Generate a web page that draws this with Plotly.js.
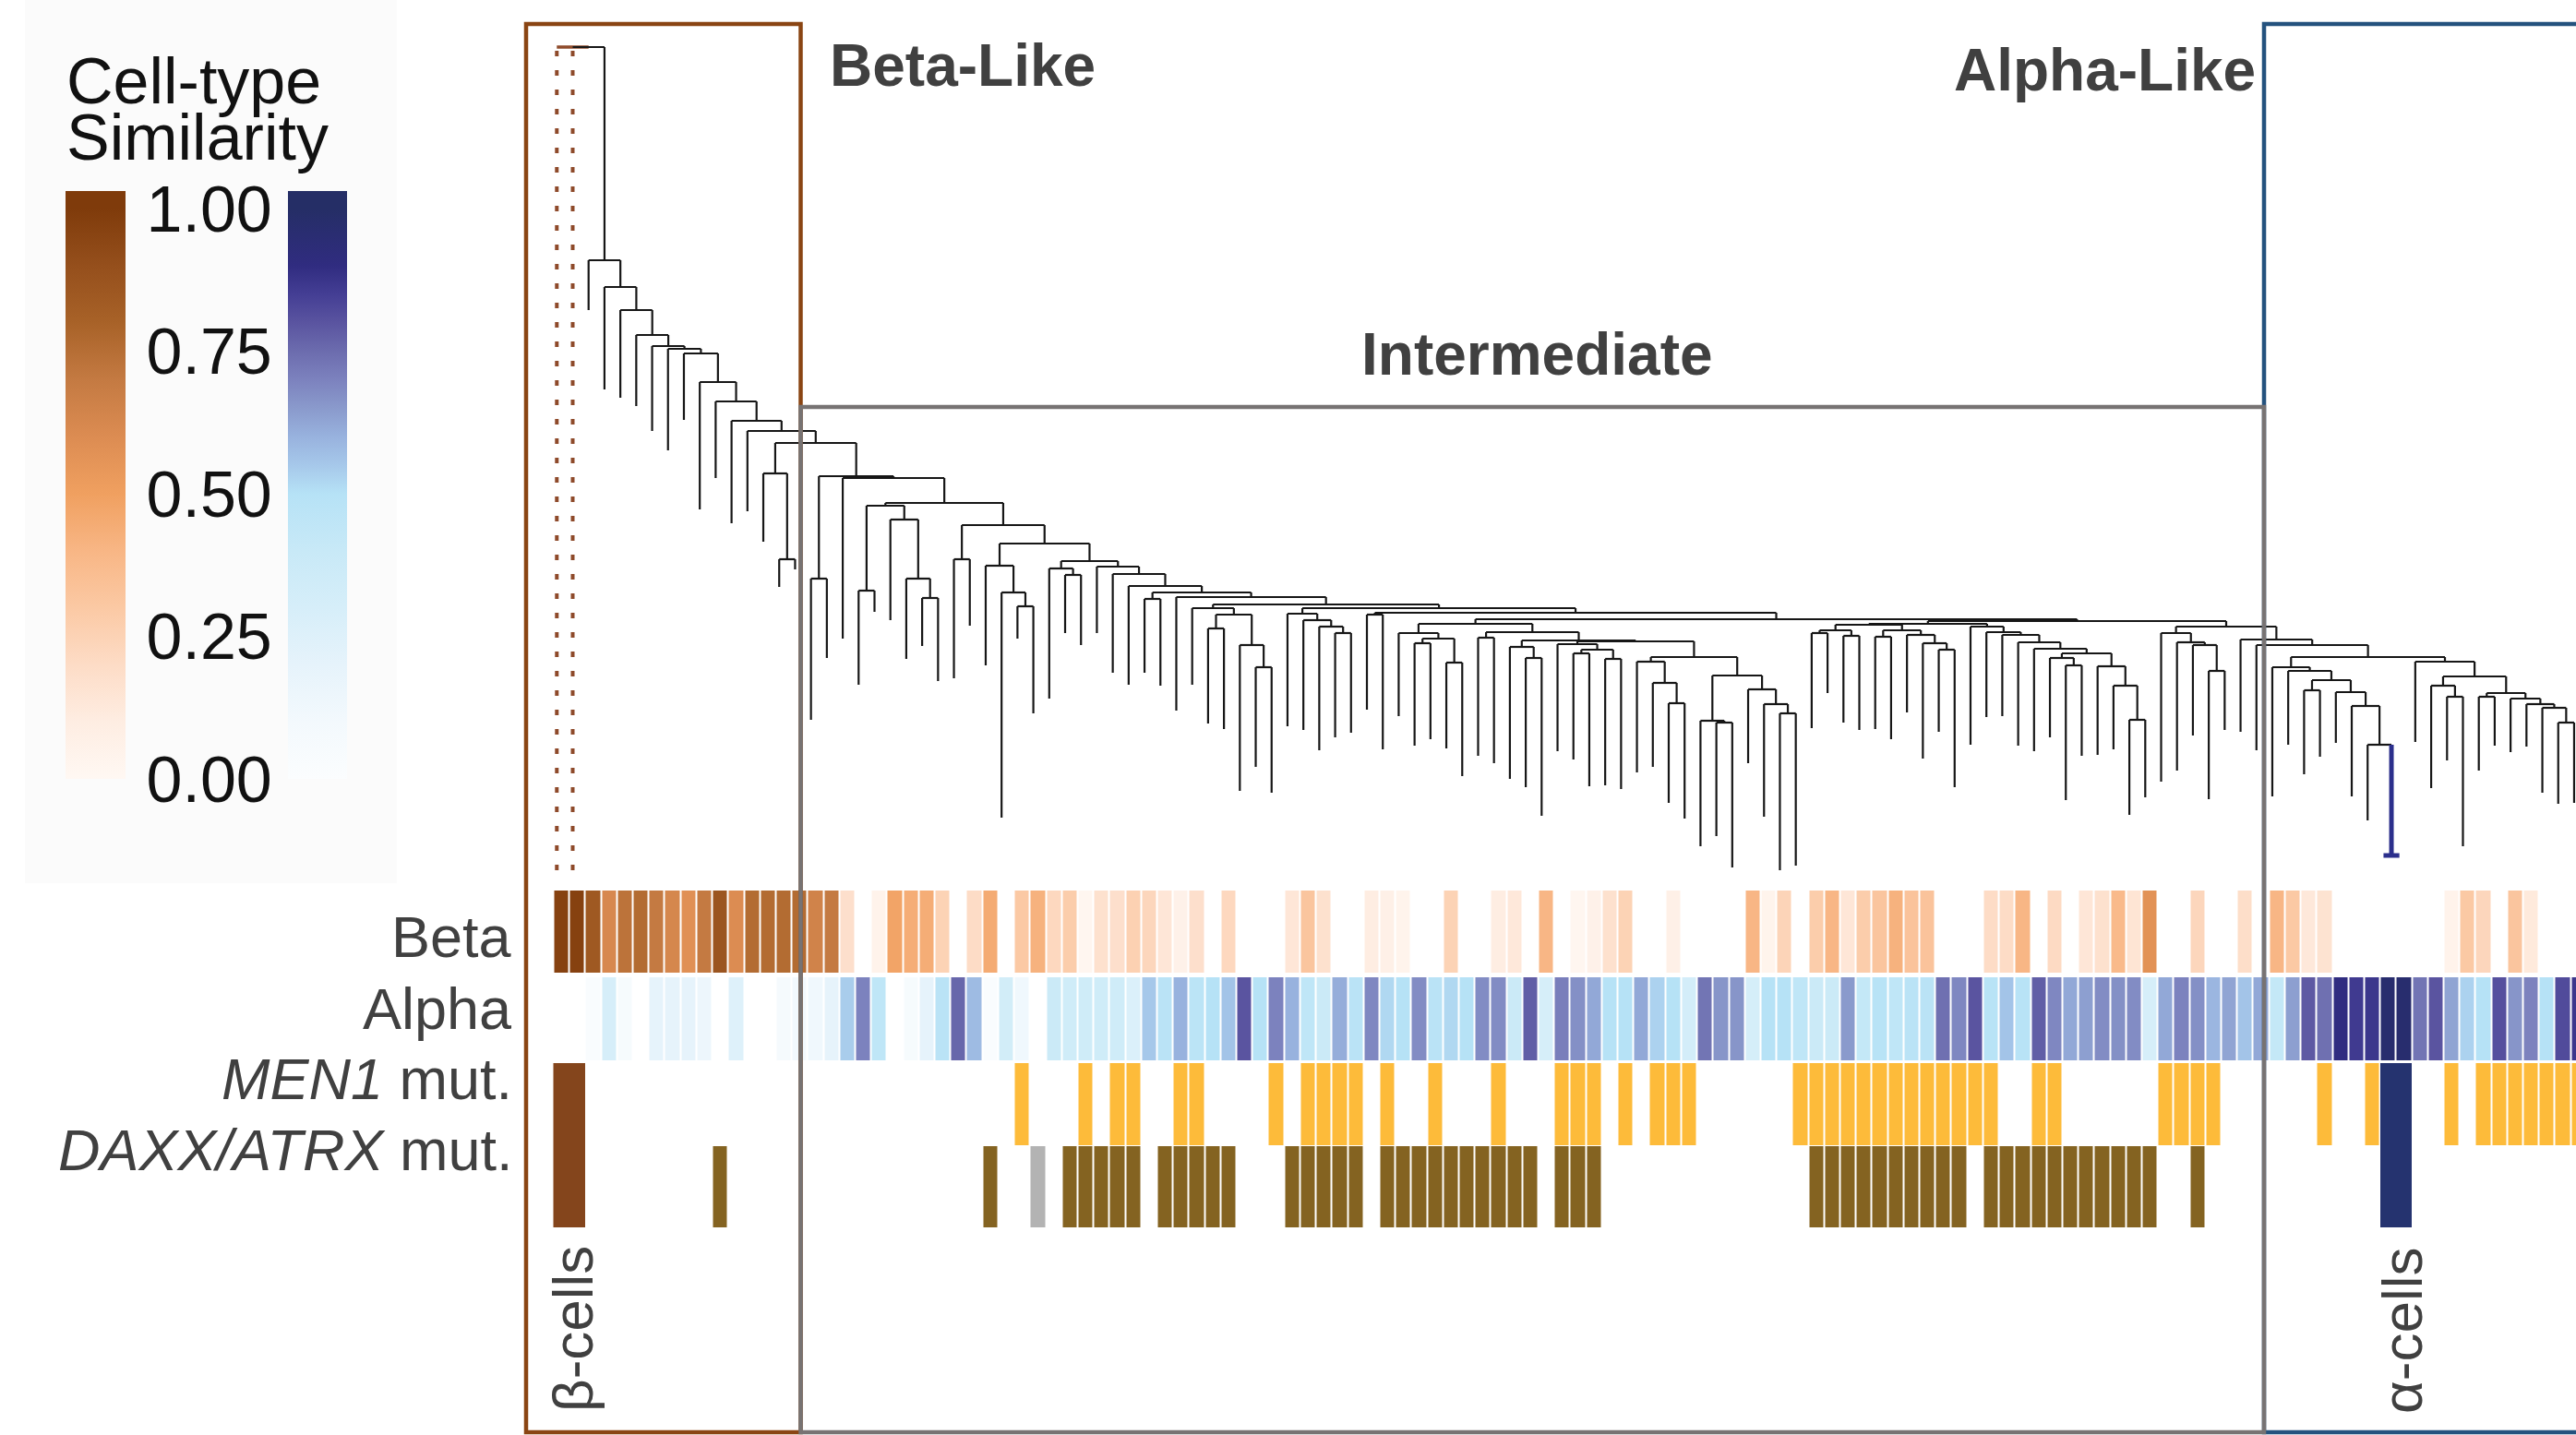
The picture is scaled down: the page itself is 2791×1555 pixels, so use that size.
<!DOCTYPE html>
<html>
<head>
<meta charset="utf-8">
<script src="https://cdn.plot.ly/plotly-3.0.1.min.js"></script>
<style>html,body{margin:0;padding:0;background:#fff;}#chart{width:2791px;height:1555px;}</style>
</head>
<body>
<div id="chart"></div>
<script>
// ===================== DATA =====================
const legendTitle = ['Cell-type', 'Similarity'];
const legendTicks = [0, 0.25, 0.5, 0.75, 1];
const legendTickText = ['0.00', '0.25', '0.50', '0.75', '1.00'];
const rowLabels = ['Beta', 'Alpha', '<i>MEN1</i> mut.', '<i>DAXX/ATRX</i> mut.'];
const groupLabels = ['Beta-Like', 'Intermediate', 'Alpha-Like'];
const refLabels = ['β-cells', 'α-cells'];

// Beta cell-type similarity per sample (null = blank)
const betaSim = [
 0.97,0.97,0.85,0.62,0.73,0.76,0.70,0.63,0.58,0.70,
 0.87,0.60,0.76,0.76,0.76,0.76,0.65,0.70,0.18,null,
 0.05,0.48,0.44,0.44,0.25,null,0.20,0.45,null,0.30,
 0.42,0.22,0.28,0.02,0.17,0.18,0.26,0.23,0.14,0.06,
 0.18,null,0.22,null,null,null,0.14,0.32,0.17,null,
 null,0.10,0.07,0.04,null,null,0.25,null,null,0.10,
 0.13,null,0.40,null,0.02,0.06,0.17,0.25,null,null,
 0.07,null,null,null,null,0.40,0.04,0.24,null,0.28,
 0.40,0.14,0.28,0.32,0.42,0.33,0.33,null,null,null,
 0.20,0.20,0.40,null,0.21,null,0.14,0.17,0.38,0.15,
 0.57,null,null,0.23,null,null,0.19,null,0.40,0.30,
 0.13,0.16,null,null,null,null,null,null,null,0.05,
 0.30,0.23,null,0.32,0.12,null,null,null];

// Alpha cell-type similarity per sample
const alphaSim = [
 null,null,0.03,0.30,0.06,null,0.20,0.20,0.20,0.15,
 null,0.25,null,null,0.08,0.10,0.12,0.20,0.54,0.70,
 0.45,null,0.06,0.20,0.48,0.76,0.58,0.03,0.33,0.12,
 null,0.38,0.35,0.35,0.35,0.35,0.27,0.55,0.48,0.60,
 0.47,0.50,0.56,0.80,0.50,0.70,0.60,0.45,0.38,0.61,
 0.48,0.69,0.52,0.50,0.68,0.48,0.52,0.50,0.68,0.68,
 0.38,0.78,0.30,0.71,0.67,0.62,0.50,0.50,0.62,0.53,
 0.50,0.32,0.73,0.66,0.66,0.31,0.50,0.50,0.45,0.38,
 0.38,0.65,0.42,0.49,0.45,0.48,0.48,0.74,0.69,0.80,
 0.49,0.56,0.49,0.78,0.69,0.62,0.64,0.68,0.67,0.68,
 0.30,0.62,0.70,0.67,0.59,0.63,0.56,0.62,0.42,0.64,
 0.79,0.74,0.90,0.86,0.87,0.97,0.97,0.73,0.80,0.63,
 0.53,0.50,0.81,0.66,0.70,0.50,0.82,0.87];

// Mutation status codes: 1 = mutated, 2 = beta-cell reference, 3 = alpha-cell reference, 4 = not available
const men1Status = [
 2,2,null,null,null,null,null,null,null,null,
 null,null,null,null,null,null,null,null,null,null,
 null,null,null,null,null,null,null,null,null,1,
 null,null,null,1,null,1,1,null,null,1,
 1,null,null,null,null,1,null,1,1,1,
 1,null,1,null,null,1,null,null,null,1,
 null,null,null,1,1,1,null,1,null,1,
 1,1,null,null,null,null,null,null,1,1,
 1,1,1,1,1,1,1,1,1,1,
 1,null,null,1,1,null,null,null,null,null,
 null,1,1,1,1,null,null,null,null,null,
 null,1,null,null,1,3,3,null,null,1,
 null,1,1,1,1,1,1,1];

const daxxStatus = [
 2,2,null,null,null,null,null,null,null,null,
 1,null,null,null,null,null,null,null,null,null,
 null,null,null,null,null,null,null,1,null,null,
 4,null,1,1,1,1,1,null,1,1,
 1,1,1,null,null,null,1,1,1,1,
 1,null,1,1,1,1,1,1,1,1,
 1,1,null,1,1,1,null,null,null,null,
 null,null,null,null,null,null,null,null,null,1,
 1,1,1,1,1,1,1,1,1,null,
 1,1,1,1,1,1,1,1,1,1,
 1,null,null,1,null,null,null,null,null,null,
 null,null,null,null,null,3,3,null,null,null,
 null,null,null,null,null,null,null,null];

// Dendrogram: height of each leaf end, and merge height between neighbouring leaves i and i+1
const leafHeight = [
 2,2,609,523,514,505,478,457,490,393,
 427,378,391,358,309,328,165,232,253,203,
 282,273,231,245,207,210,267,224,59,253,
 172,188,259,246,259,216,203,216,202,175,
 203,161,155,88,114,86,158,154,132,146,
 151,176,133,169,137,144,134,104,126,118,
 101,92,61,131,122,93,94,90,108,114,
 75,58,28,39,5,118,60,2,7,156,
 194,162,154,155,144,173,123,152,92,138,
 168,169,137,131,146,78,126,127,133,62,
 81,98,110,148,79,154,152,132,82,138,
 106,125,140,82,56,18,18,141,91,121,
 28,110,137,130,136,86,74,75];

const mergeHeight = [
 894,894,663,634,609,582,570,567,562,531,
 510,489,478,432,339,465,318,429,427,305,
 397,382,318,297,400,339,376,332,303,288,
 356,329,322,337,331,323,310,296,303,298,
 286,264,279,246,222,290,280,273,266,259,
 286,279,281,259,248,253,227,269,254,260,
 244,232,251,247,237,241,231,250,228,205,
 183,233,164,162,213,198,182,172,274,259,
 262,256,268,255,262,257,248,241,269,266,
 260,257,249,242,232,224,237,223,202,165,
 272,259,249,246,218,266,252,246,222,218,
 197,208,195,180,138,18,233,228,202,190,
 212,190,194,188,182,178,162];

// ===================== LAYOUT CONSTANTS =====================
const W = 2791, H = 1555;
const COL0 = 599.5, COLW = 17.21;          // pixel left of first column, column width
const N = betaSim.length;
const LEAF_OFF = 0.22;                      // dendrogram leaf position inside its column
const DENDRO_BASE = 945;                    // pixel row of dendrogram height 0
const ROW_BETA = [965, 1054], ROW_ALPHA = [1059, 1149], ROW_MEN1 = [1152, 1241], ROW_DAXX = [1242, 1330];
const ROW_REF = [1152, 1330];
const FONT = 'Liberation Sans, Arial, Helvetica, sans-serif';
const TXT = '#404040';
const CMAX = 1.031;
const BAR_TOP = 207, BAR_ZERO = 844;
const BROWN_BAR_X = 71, BLUE_BAR_X = 312, BAR_W = 65;

function px2col(p) { return (p - COL0) / COLW; }

function makeScale(stops) {
  const s = stops.map(([v, c]) => [v / CMAX, c]);
  s.push([1, stops[stops.length - 1][1]]);
  return s;
}
const brownScale = makeScale([
  [0, '#fff8f3'], [0.1, '#feede2'], [0.2, '#fddcc6'], [0.3, '#fbc9a4'], [0.4, '#f8b685'],
  [0.5, '#f0a060'], [0.6, '#dc8c52'], [0.7, '#c47a42'], [0.8, '#a86228'], [0.9, '#954f1c'], [1, '#7f3b0b']]);
const blueScale = makeScale([
  [0, '#fbfdfe'], [0.1, '#f3f9fd'], [0.2, '#e6f3fb'], [0.3, '#d6eef9'], [0.4, '#c8e9f7'],
  [0.5, '#b6e2f6'], [0.55, '#a6c8ea'], [0.6, '#98b2de'], [0.65, '#8a9acc'], [0.7, '#7c82be'],
  [0.75, '#6c6cae'], [0.8, '#5a54a0'], [0.85, '#443e94'], [0.9, '#302c80'], [1, '#252e66']]);
const C_MUT_MEN1 = '#fdbb3a', C_MUT_DAXX = '#846321', C_BREF = '#84451c', C_AREF = '#25336f', C_NA = '#b3b3b3';
const mutScale4 = [[0, C_MUT_MEN1], [1/6, C_MUT_MEN1], [1/6, C_BREF], [0.5, C_BREF], [0.5, C_AREF], [5/6, C_AREF], [5/6, C_NA], [1, C_NA]];
const daxxScale = [[0, C_MUT_DAXX], [1/6, C_MUT_DAXX], [1/6, C_BREF], [0.5, C_BREF], [0.5, C_AREF], [5/6, C_AREF], [5/6, C_NA], [1, C_NA]];

const colEdges = Array.from({length: N + 1}, (_, i) => i);

function hm(z, rows, cs, zmin, zmax, extra) {
  return Object.assign({
    type: 'heatmap', x: colEdges, y: rows, z: [z], colorscale: cs, zmin: zmin, zmax: zmax,
    xgap: 2, ygap: 0, showscale: false, hoverinfo: 'skip', xaxis: 'x', yaxis: 'y'
  }, extra || {});
}

const isRef = v => v === 2 || v === 3;
const men1Mut = men1Status.map(v => isRef(v) ? null : v);
const daxxMut = daxxStatus.map(v => isRef(v) ? null : v);
const refBlock = men1Status.map(v => isRef(v) ? v : null);

const cbCommon = {
  xanchor: 'left', xpad: 0, ypad: 0, y: 1 - BAR_TOP / H, yanchor: 'top',
  len: BAR_ZERO - BAR_TOP, lenmode: 'pixels', thickness: BAR_W, thicknessmode: 'pixels',
  outlinewidth: 0, bgcolor: 'rgba(0,0,0,0)', tickmode: 'array', tickvals: legendTicks, ticktext: legendTickText
};

const traces = [
  hm(betaSim, ROW_BETA, brownScale, 0, CMAX, {
    showscale: true,
    colorbar: Object.assign({}, cbCommon, {
      x: BROWN_BAR_X / W, ticks: 'outside', ticklen: 9, tickcolor: 'rgba(0,0,0,0)',
      tickfont: {size: 70, color: '#111', family: FONT}
    })
  }),
  hm(alphaSim, ROW_ALPHA, blueScale, 0, CMAX, {
    showscale: true,
    colorbar: Object.assign({}, cbCommon, {x: BLUE_BAR_X / W, thickness: BAR_W - 1, ticks: '', showticklabels: false})
  }),
  hm(men1Mut, ROW_MEN1, mutScale4, 1, 4),
  hm(daxxMut, ROW_DAXX, daxxScale, 1, 4),
  hm(refBlock, ROW_REF, mutScale4, 1, 4, {xgap: 0})
];

// ---------- dendrogram from merge heights ----------
const betaRef = new Set(), alphaRef = new Set();
men1Status.forEach((v, i) => { if (v === 2) betaRef.add(i); if (v === 3) alphaRef.add(i); });

function build(a, b) {
  if (a === b) return {leaf: a, a: a, b: b, x: a + LEAF_OFF, h: leafHeight[a]};
  let best = a, bh = -Infinity;
  for (let i = a; i < b; i++) if (mergeHeight[i] > bh) { bh = mergeHeight[i]; best = i; }
  const L = build(a, best), R = build(best + 1, b);
  return {L: L, R: R, a: a, b: b, x: (L.x + R.x) / 2, h: bh};
}
const root = build(0, N - 1);

const seg = {black: {x: [], y: []}, blue: {x: [], y: []}, refDot: {x: [], y: []}, refSolid: {x: [], y: []}};
function add(s, x0, y0, x1, y1) { s.x.push(x0, x1, null); s.y.push(y0, y1, null); }
function allAlpha(n) { for (let i = n.a; i <= n.b; i++) if (!alphaRef.has(i)) return false; return true; }

function walk(n, parentH) {
  let vt = seg.black;
  if (n.leaf !== undefined && betaRef.has(n.leaf)) vt = seg.refDot;
  else if (allAlpha(n)) vt = seg.blue;
  if (parentH !== null) add(vt, n.x, n.h, n.x, parentH);
  if (n.leaf === undefined) {
    let ht = seg.black;
    if (allAlpha(n)) ht = seg.blue;
    else if (n.L.leaf !== undefined && betaRef.has(n.L.leaf) && betaRef.has(n.R.a)) ht = seg.refSolid;
    add(ht, n.L.x, n.h, n.R.x, n.h);
    walk(n.L, n.h); walk(n.R, n.h);
  }
}
walk(root, null);

function lineTrace(s, color, width, dash) {
  return {type: 'scatter', mode: 'lines', x: s.x, y: s.y, xaxis: 'x', yaxis: 'y2',
    line: {color: color, width: width, dash: dash || 'solid'}, hoverinfo: 'skip', showlegend: false};
}
traces.push(lineTrace(seg.refSolid, '#8e4a2a', 3.5));
traces.push(lineTrace(seg.refDot, '#8e4a2a', 4, '6px,15px'));
traces.push(lineTrace(seg.black, '#161616', 2.2));
traces.push(lineTrace(seg.blue, '#2b2f8c', 5));

// ---------- boxes ----------
const xBetaL = px2col(570), xBetaR = px2col(867.5), xInterR = px2col(2453), xFar = px2col(3000);
const shapes = [
  {type: 'rect', xref: 'paper', yref: 'y', x0: 27 / W, x1: 430 / W, y0: 0, y1: 957,
   fillcolor: '#fbfbfb', line: {width: 0}, layer: 'below'},
  {type: 'rect', xref: 'x', yref: 'y', x0: xBetaL, x1: xBetaR, y0: 26, y1: 1552, line: {color: '#8a4513', width: 4.5}},
  {type: 'rect', xref: 'x', yref: 'y', x0: xInterR, x1: xFar, y0: 26, y1: 1552, line: {color: '#24527e', width: 4.5}},
  {type: 'rect', xref: 'x', yref: 'y', x0: xBetaR, x1: xInterR, y0: 441, y1: 1552, line: {color: '#777373', width: 4.5}}
];
// small white tick marks inside the legend bars, at the legend tick values
const pxPerUnit = (BAR_ZERO - BAR_TOP) / CMAX;
legendTicks.filter(v => v > 0).forEach(v => {
  const yy = BAR_ZERO - v * pxPerUnit;
  shapes.push({type: 'line', xref: 'paper', yref: 'y', x0: (BROWN_BAR_X + BAR_W - 14) / W, x1: (BROWN_BAR_X + BAR_W) / W,
    y0: yy, y1: yy, line: {color: 'rgba(255,255,255,0.9)', width: 3}});
  shapes.push({type: 'line', xref: 'paper', yref: 'y', x0: BLUE_BAR_X / W, x1: (BLUE_BAR_X + 14) / W,
    y0: yy, y1: yy, line: {color: 'rgba(255,255,255,0.9)', width: 3}});
});

// ---------- text ----------
function ann(text, xpx, ypx, size, opts) {
  return Object.assign({text: text, x: xpx / W, xref: 'paper', y: ypx, yref: 'y', showarrow: false,
    xanchor: 'left', yanchor: 'middle', font: {family: FONT, size: size, color: TXT}}, opts || {});
}
const annotations = [
  ann(legendTitle[0], 70, 88, 70, {font: {family: FONT, size: 70, color: '#111'}}),
  ann(legendTitle[1], 70, 149, 70, {font: {family: FONT, size: 70, color: '#111'}}),
  ann('<b>' + groupLabels[0] + '</b>', 897, 71, 64),
  ann('<b>' + groupLabels[1] + '</b>', 1665, 384, 64, {xanchor: 'center'}),
  ann('<b>' + groupLabels[2] + '</b>', 2446, 76, 64, {xanchor: 'right'}),
  ann(rowLabels[0], 557, 1015, 63, {xanchor: 'right'}),
  ann(rowLabels[1], 557, 1093, 63, {xanchor: 'right'}),
  ann(rowLabels[2], 557, 1169, 63, {xanchor: 'right'}),
  ann(rowLabels[3], 557, 1246, 63, {xanchor: 'right'}),
  ann(refLabels[0], 620, 1440, 62, {xanchor: 'center', textangle: -90}),
  ann(refLabels[1], 2602, 1442, 62, {xanchor: 'center', textangle: -90})
];

const layout = {
  width: W, height: H, margin: {l: 0, r: 0, t: 0, b: 0, pad: 0},
  paper_bgcolor: '#ffffff', plot_bgcolor: 'rgba(0,0,0,0)', showlegend: false,
  font: {family: FONT},
  xaxis: {range: [px2col(0), px2col(W)], autorange: false, visible: false, fixedrange: true, domain: [0, 1]},
  yaxis: {range: [H, 0], autorange: false, visible: false, fixedrange: true, domain: [0, 1]},
  yaxis2: {range: [DENDRO_BASE - H, DENDRO_BASE], autorange: false, visible: false, overlaying: 'y', fixedrange: true},
  shapes: shapes, annotations: annotations
};

Plotly.newPlot('chart', traces, layout, {displayModeBar: false, staticPlot: true});
</script>
</body>
</html>
